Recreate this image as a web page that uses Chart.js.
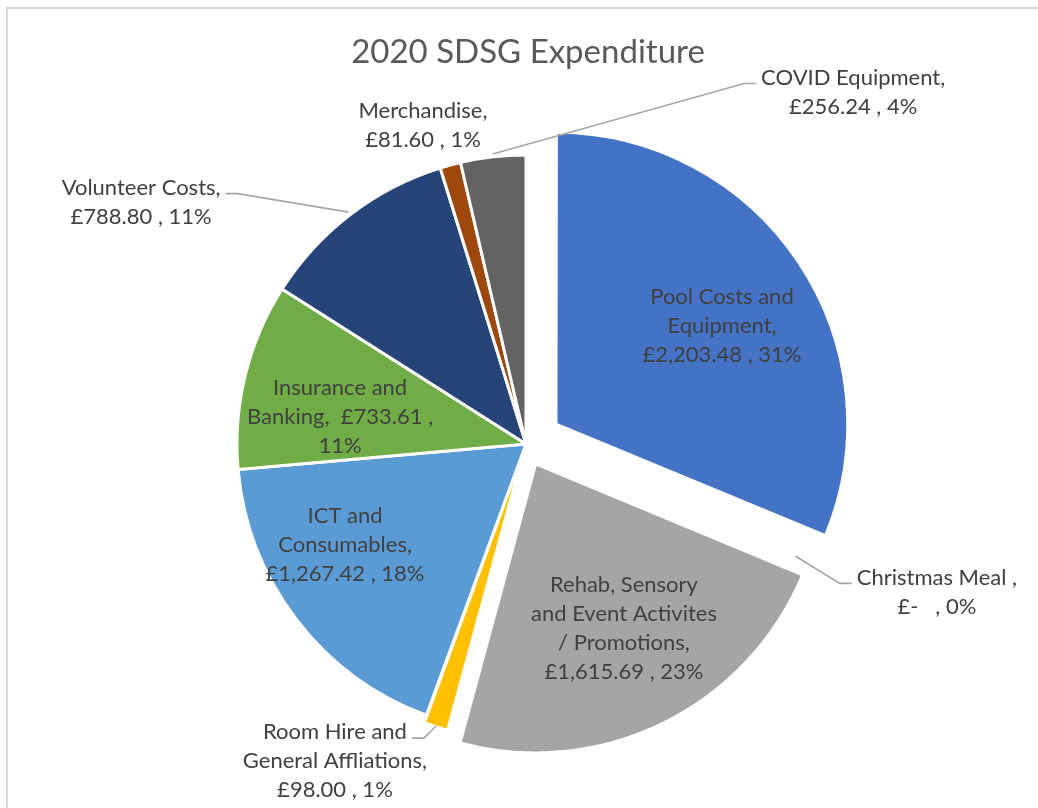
<!DOCTYPE html>
<html>
<head>
<meta charset="utf-8">
<title>2020 SDSG Expenditure</title>
<script src="https://cdn.jsdelivr.net/npm/chart.js@4.4.1/dist/chart.umd.min.js"></script>
<style>
  html, body { margin: 0; padding: 0; background: #ffffff; }
  #chart { display: block; }
</style>
</head>
<body>
<canvas id="chart" width="1038" height="808"></canvas>
<script>
// data
const categories = [
  'Pool Costs and Equipment',
  'Christmas Meal',
  'Rehab, Sensory and Event Activites / Promotions',
  'Room Hire and General Affliations',
  'ICT and Consumables',
  'Insurance and Banking',
  'Volunteer Costs',
  'Merchandise',
  'COVID Equipment'
];
const amounts = [2203.48, 0, 1615.69, 98.00, 1267.42, 733.61, 788.80, 81.60, 256.24];
const amountText = ['£2,203.48', '£-  ', '£1,615.69', '£98.00', '£1,267.42', '£733.61', '£788.80', '£81.60', '£256.24'];
const percentText = ['31%', '0%', '23%', '1%', '18%', '11%', '11%', '1%', '4%'];

// label text as it is broken in the picture
const labelLines = [
  ['Pool Costs and', 'Equipment,', '£2,203.48 , 31%'],
  ['Christmas Meal ,', '£-   , 0%'],
  ['Rehab, Sensory', 'and Event Activites', '/ Promotions,', '£1,615.69 , 23%'],
  ['Room Hire and', 'General Affliations,', '£98.00 , 1%'],
  ['ICT and', 'Consumables,', '£1,267.42 , 18%'],
  ['Insurance and', 'Banking,  £733.61 ,', '11%'],
  ['Volunteer Costs,', '£788.80 , 11%'],
  ['Merchandise,', '£81.60 , 1%'],
  ['COVID Equipment,', '£256.24 , 4%']
];

// styles / layout
const sliceColors = ['#4472C4', '#ED7D31', '#A5A5A5', '#FFC000', '#5B9BD5', '#70AD47', '#264478', '#9E480E', '#636363'];
const sliceOffsets = [144, 0, 88, 16, 0, 0, 0, 0, 0];
// label block centre: [clockwise degrees from top, fraction of radius]
const labelPolar = [[58.9, 0.792], [109.8, 1.511], [151.96, 0.721], [211.07, 1.281], [240.84, 0.717],
                    [278.26, 0.650], [302.15, 1.573], [342.1, 1.160], [42.9, 1.663]];
// leader line: 'L' = text sits left of the elbow, 'R' = right, null = none
const leaderSide = [null, 'R', null, 'L', null, null, 'L', null, 'R'];

const FONT = 'Lato, "Open Sans", sans-serif';
const LINE_H = 29;

const labelPlugin = {
  id: 'sdsgLabels',
  beforeDraw(chart) {
    const ctx = chart.ctx;
    ctx.save();
    ctx.strokeStyle = '#D9D9D9';
    ctx.lineWidth = 2;
    ctx.strokeRect(7, 8, 1200, 1000);
    ctx.restore();
  },
  afterDraw(chart) {
    const ctx = chart.ctx;
    const meta = chart.getDatasetMeta(0);
    const first = meta.data[0];
    const cx = first.x, cy = first.y, r = first.outerRadius;

    ctx.save();
    // title
    ctx.fillStyle = '#595959';
    ctx.font = '33px ' + FONT;
    ctx.textAlign = 'center';
    ctx.textBaseline = 'middle';
    ctx.fillText('2020 SDSG Expenditure', cx + 2, 52);

    ctx.font = '22px ' + FONT;
    meta.data.forEach((arc, i) => {
      const lines = labelLines[i];
      const a = (labelPolar[i][0] - 90) * Math.PI / 180;
      const bx = cx + Math.cos(a) * r * labelPolar[i][1];
      const by = cy + Math.sin(a) * r * labelPolar[i][1];
      const top = by - (lines.length - 1) * LINE_H / 2;

      ctx.fillStyle = '#404040';
      lines.forEach((t, j) => ctx.fillText(t, bx, top + j * LINE_H));

      const side = leaderSide[i];
      if (side) {
        const w = ctx.measureText(lines[0]).width;
        const ly = top + 6;
        const edge = side === 'L' ? bx + w / 2 + 5 : bx - w / 2 - 5;
        const elbow = side === 'L' ? edge + 12 : edge - 12;
        const mid = (arc.startAngle + arc.endAngle) / 2;
        const push = r + 3 + sliceOffsets[i] / 4;
        const sx = cx + Math.cos(mid) * push;
        const sy = cy + Math.sin(mid) * push;
        ctx.strokeStyle = '#A6A6A6';
        ctx.lineWidth = 1.6;
        ctx.beginPath();
        ctx.moveTo(sx, sy);
        ctx.lineTo(elbow, ly);
        ctx.lineTo(edge, ly);
        ctx.stroke();
      }
    });
    ctx.restore();
  }
};

new Chart(document.getElementById('chart'), {
  type: 'pie',
  data: {
    labels: categories,
    datasets: [{
      data: amounts,
      backgroundColor: sliceColors,
      borderColor: '#ffffff',
      borderWidth: 3,
      hoverBorderWidth: 3,
      offset: sliceOffsets,
      hoverOffset: sliceOffsets
    }]
  },
  options: {
    responsive: false,
    devicePixelRatio: 1,
    animation: false,
    events: [],
    layout: { padding: { top: 81.5, bottom: 1.5, left: 76, right: 62 } },
    plugins: {
      legend: { display: false },
      tooltip: { enabled: false },
      title: { display: false }
    }
  },
  plugins: [labelPlugin]
});
</script>
</body>
</html>
